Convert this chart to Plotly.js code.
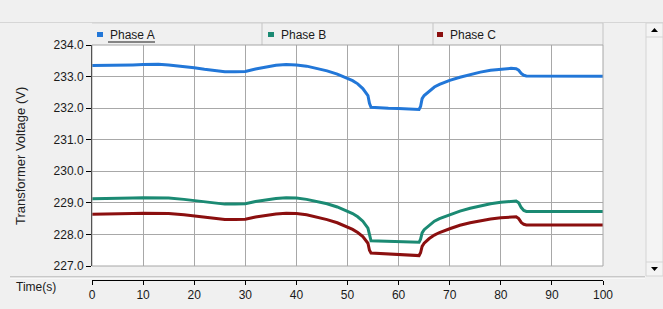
<!DOCTYPE html>
<html><head><meta charset="utf-8">
<script src="https://cdn.plot.ly/plotly-3.0.1.min.js"></script>
<style>html,body{margin:0;padding:0;background:#f0f0f0;}#chart{width:663px;height:309px;}</style>
</head><body><div id="chart"></div>
<script>
const time = [0,2,5,8,10,13,15,18,20,22,24,26,28,30,32,34,36,38,40,42,44,46,48,50,51,52,53,54,54.3,54.6,56,58,60,62,64,64.3,64.6,65,66,67,68,70,72,74,76,78,80,82,83,83.5,84,84.5,85,88,90,92,95,98,100];
const phaseA = [233.35,233.35,233.36,233.37,233.38,233.39,233.37,233.33,233.28,233.23,233.18,233.15,233.15,233.16,233.24,233.31,233.36,233.38,233.37,233.33,233.26,233.18,233.08,232.95,232.87,232.77,232.62,232.40,232.15,232.03,232.01,232.00,231.99,231.97,231.96,232.05,232.30,232.40,232.55,232.67,232.75,232.88,232.98,233.07,233.14,233.20,233.24,233.26,233.25,233.20,233.10,233.04,233.02,233.02,233.03,233.02,233.03,233.02,233.01];
const phaseB = [229.13,229.13,229.14,229.15,229.16,229.16,229.15,229.11,229.07,229.02,228.98,228.96,228.96,228.97,229.04,229.10,229.14,229.16,229.15,229.11,229.04,228.97,228.87,228.74,228.66,228.56,228.42,228.20,227.95,227.80,227.79,227.78,227.77,227.76,227.75,227.85,228.05,228.15,228.30,228.42,228.50,228.63,228.74,228.83,228.91,228.97,229.02,229.06,229.06,229.00,228.85,228.76,228.73,228.73,228.73,228.72,228.73,228.72,228.73];
const phaseC = [228.64,228.64,228.65,228.66,228.67,228.67,228.66,228.62,228.58,228.53,228.49,228.47,228.47,228.48,228.55,228.61,228.65,228.67,228.66,228.62,228.55,228.47,228.37,228.24,228.16,228.06,227.93,227.72,227.50,227.41,227.40,227.38,227.36,227.34,227.33,227.42,227.62,227.72,227.87,227.98,228.06,228.18,228.29,228.37,228.44,228.49,228.53,228.56,228.56,228.50,228.38,228.32,228.30,228.30,228.30,228.29,228.30,228.29,228.30];
const seriesNames = ["Phase A","Phase B","Phase C"];
const seriesColors = ["#2277d8","#1b8a73","#8b0f0f"];
const xTicks = [0,10,20,30,40,50,60,70,80,90,100];
const yTicks = [227,228,229,230,231,232,233,234];

const W=663,H=309,ML=92,MR=60,MT=45,MB=29;
const PW=W-ML-MR, PH=H-MT-MB;
const px = x => (x-ML)/PW;
const py = y => (H-MB-y)/PH;

const font = {family:"Liberation Sans, Arial, sans-serif", size:12, color:"#1a1a1a"};
const data = [phaseA,phaseB,phaseC].map((v,i)=>({
  x:time, y:v, type:"scatter", mode:"lines", name:seriesNames[i],
  line:{color:seriesColors[i], width:3}, hoverinfo:"skip"
}));

const shapes = [];
function line(x0,y0,x1,y1,color,w){shapes.push({type:"line",xref:"paper",yref:"paper",x0:px(x0),y0:py(y0),x1:px(x1),y1:py(y1),line:{color:color,width:w||1},layer:"above"});}
function rect(x0,y0,x1,y1,fill,lc,layer){shapes.push({type:"rect",xref:"paper",yref:"paper",x0:px(x0),y0:py(y0),x1:px(x1),y1:py(y1),fillcolor:fill,line:{color:lc||"rgba(0,0,0,0)",width:lc?1:0},layer:layer||"below"});}
function tri(cx,cy,up){const d=up?`M${px(cx-3.5)},${py(cy+2)} L${px(cx+3.5)},${py(cy+2)} L${px(cx)},${py(cy-2)} Z`:`M${px(cx-3.5)},${py(cy-2)} L${px(cx+3.5)},${py(cy-2)} L${px(cx)},${py(cy+2)} Z`;
  shapes.push({type:"path",xref:"paper",yref:"paper",path:d,fillcolor:"#000",line:{width:0},layer:"above"});}

// top separator
line(0,22.5,663,22.5,"#d6d6d6",1);
// legend strip
line(92,23,603,23,"#d0d0d0",1);
[262,433,603].forEach(x=>line(x,23,x,45,"#c4c4c4",1));
// plot border
rect(92,45,603,266,"rgba(0,0,0,0)","#a6a6a6","above");
// scrollbar
rect(646,23,663,276,"#f4f4f4","#d4d4d4","below");
line(646,37,663,37,"#d4d4d4",1);
line(646,262,663,262,"#d4d4d4",1);
tri(654.5,30,true); tri(654.5,269,false);
// bottom separator
line(10,277,645,277,"#a0a0a0",1);
line(10,278,645,278,"#ffffff",1);

const annotations = [];
// legend entries
const legX = [97,268,437];
seriesNames.forEach((n,i)=>{
  rect(legX[i],32,legX[i]+6,37,seriesColors[i],null,"above");
  annotations.push({xref:"paper",yref:"paper",x:px(legX[i]+11),y:py(35),xanchor:"left",yanchor:"middle",text:n,showarrow:false,font:font});
});
line(108,42,155,42,"#1a1a1a",1);
annotations.push({xref:"paper",yref:"paper",x:px(20),y:py(156),text:"Transformer Voltage (V)",textangle:-90,showarrow:false,xanchor:"center",yanchor:"middle",font:{family:font.family,size:13,color:"#222"}});
annotations.push({xref:"paper",yref:"paper",x:px(14),y:py(287),text:"Time(s)",showarrow:false,xanchor:"left",yanchor:"middle",font:font});

const layout = {
  width:W,height:H,margin:{l:ML,r:MR,t:MT,b:MB,pad:0},
  paper_bgcolor:"#f0f0f0",plot_bgcolor:"#ffffff",showlegend:false,
  font:font,
  xaxis:{range:[0,100],tickvals:xTicks,ticktext:xTicks.map(String),showgrid:true,gridcolor:"#a8a8a8",gridwidth:1,
    zeroline:false,showline:true,linecolor:"#000",linewidth:1,ticks:"outside",ticklen:4,tickcolor:"#000",
    anchor:"free",position:0,automargin:false,tickfont:font},
  yaxis:{range:[227,234],domain:[14/PH,1],tickvals:yTicks,ticktext:yTicks.map(v=>v.toFixed(1)),showgrid:true,gridcolor:"#a8a8a8",gridwidth:1,
    zeroline:false,showline:true,linecolor:"#000",linewidth:1,ticks:"outside",ticklen:5,tickcolor:"#000",automargin:false,tickfont:font},
  shapes:shapes,annotations:annotations
};
Plotly.newPlot("chart",data,layout,{displayModeBar:false,staticPlot:true});
</script></body></html>
